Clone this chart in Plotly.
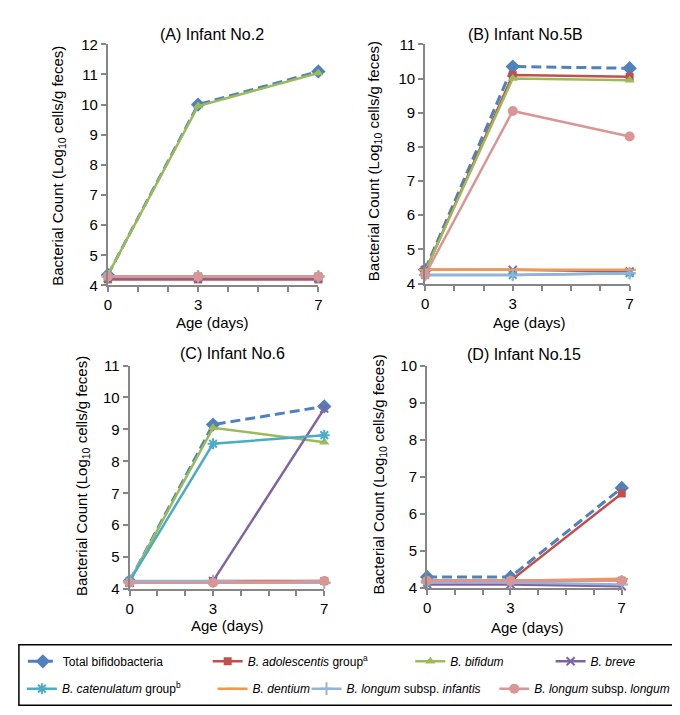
import plotly.graph_objects as go

W, H = 680, 715

days = [0, 3, 7]
x_tickvals = [0, 3, 7]
x_ticktext = ["0", "3", "7"]

series_names = [
    "Total bifidobacteria",
    "<i>B. adolescentis</i> group<sup>a</sup>",
    "<i>B. bifidum</i>",
    "<i>B. breve</i>",
    "<i>B. catenulatum</i> group<sup>b</sup>",
    "<i>B. dentium</i>",
    "<i>B. longum</i> subsp. <i>infantis</i>",
    "<i>B. longum</i> subsp. <i>longum</i>",
]

# values per panel, one list per series (order = series_names), at days 0, 3, 7
infant2 = [
    [4.35, 10.0, 11.1],
    [4.2, 4.2, 4.2],
    [4.35, 9.95, 11.05],
    [4.25, 4.25, 4.25],
    [4.3, 4.3, 4.3],
    [4.3, 4.3, 4.3],
    [4.3, 4.3, 4.3],
    [4.3, 4.3, 4.3],
]
infant5B = [
    [4.4, 10.35, 10.3],
    [4.35, 10.1, 10.05],
    [4.35, 10.0, 9.95],
    [4.4, 4.4, 4.35],
    [4.25, 4.25, 4.3],
    [4.4, 4.4, 4.4],
    [4.25, 4.25, 4.3],
    [4.25, 9.05, 8.3],
]
infant6 = [
    [4.25, 9.15, 9.72],
    [4.2, 4.25, 4.25],
    [4.25, 9.05, 8.6],
    [4.2, 4.25, 9.65],
    [4.25, 8.55, 8.82],
    [4.2, 4.2, 4.2],
    [4.25, 4.25, 4.2],
    [4.2, 4.2, 4.25],
]
infant15 = [
    [4.3, 4.3, 6.7],
    [4.2, 4.2, 6.55],
    [4.2, 4.2, 4.2],
    [4.1, 4.1, 4.05],
    [4.15, 4.2, 4.2],
    [4.2, 4.2, 4.25],
    [4.15, 4.15, 4.1],
    [4.2, 4.2, 4.2],
]

panel_titles = ["(A) Infant No.2", "(B) Infant No.5B", "(C) Infant No.6", "(D) Infant No.15"]
panel_data = [infant2, infant5B, infant6, infant15]
y_ranges = [(4, 12), (4, 11), (4, 11), (4, 10)]

colors = ["#4F81BD", "#C0504D", "#9BBB59", "#8064A2", "#4BACC6", "#F79646", "#95B3D7", "#D99694"]
symbols = ["diamond", "square", "triangle-up", "x-thin-open", "asterisk-open",
           "line-ew-open", "cross-thin-open", "circle"]
msizes = [11, 8, 9, 8, 9, 9, 9, 10]

FONT = "Arial, 'Liberation Sans', sans-serif"

# panel pixel boxes: (x0, x1, ytop, ybottom)
boxes = [
    (97, 310, 28, 275),
    (418, 625, 28, 273),
    (119, 316, 357, 586),
    (420, 617, 357, 585),
]

fig = go.Figure()

for p, (data, box) in enumerate(zip(panel_data, boxes)):
    ax = "" if p == 0 else str(p + 1)
    for i, vals in enumerate(data):
        dashed = i == 0
        mline = dict(width=2, color=colors[i]) if symbols[i].endswith("open") else dict(width=0)
        fig.add_trace(go.Scatter(
            x=days, y=vals, mode="lines+markers",
            name=series_names[i],
            xaxis="x" + ax, yaxis="y" + ax,
            line=dict(color=colors[i], width=3 if dashed else 2.5,
                      dash="10px,5px" if dashed else "solid"),
            marker=dict(symbol=symbols[i], size=msizes[i], color=colors[i], line=mline),
            cliponaxis=False,
            showlegend=(p == 0),
            legend=("legend" if i == 0 else "legend" + str(i + 1)),
        ))

layout = dict(
    width=W, height=H, autosize=False,
    margin=dict(l=0, r=0, t=0, b=0),
    paper_bgcolor="white", plot_bgcolor="white",
    font=dict(family=FONT, size=15, color="#000000"),
    annotations=[], shapes=[],
)

for p, box in enumerate(boxes):
    ax = "" if p == 0 else str(p + 1)
    x0, x1, yt, yb = box
    layout["xaxis" + ax] = dict(
        domain=[x0 / W, x1 / W], range=[0, 7], anchor="y" + ax,
        tickmode="array", tickvals=x_tickvals, ticktext=x_ticktext,
        ticks="outside", ticklen=5, tickwidth=1.5, tickcolor="#868686",
        minor=dict(tick0=0, dtick=1, ticks="outside", ticklen=5, tickwidth=1.5,
                   tickcolor="#868686", showgrid=False),
        showline=True, linecolor="#868686", linewidth=2,
        showgrid=False, zeroline=False, fixedrange=True,
        tickfont=dict(size=15),
    )
    lo, hi = y_ranges[p]
    layout["yaxis" + ax] = dict(
        domain=[1 - yb / H, 1 - yt / H], range=[lo, hi], anchor="x" + ax,
        tickmode="linear", tick0=lo, dtick=1,
        ticks="outside", ticklen=5, tickwidth=1.5, tickcolor="#868686",
        showline=True, linecolor="#868686", linewidth=2,
        showgrid=False, zeroline=False, fixedrange=True,
        tickfont=dict(size=15),
    )

# titles
title_pos = [(202, 18), (520, 18), (223, 345), (518, 346)]
for t, (cx, cy) in zip(panel_titles, title_pos):
    layout["annotations"].append(dict(
        text=t, x=cx / W, y=1 - cy / H, xref="paper", yref="paper",
        xanchor="center", yanchor="middle", showarrow=False, font=dict(size=16)))

# x-axis titles
xt_pos = [(203, 313), (524, 313), (218, 623), (522, 625)]
for cx, cy in xt_pos:
    layout["annotations"].append(dict(
        text="Age (days)", x=cx / W, y=1 - cy / H, xref="paper", yref="paper",
        xanchor="center", yanchor="middle", showarrow=False, font=dict(size=15)))

# y-axis titles
yt_pos = [(47, 152), (367, 148), (72, 470), (372, 469)]
for cx, cy in yt_pos:
    layout["annotations"].append(dict(
        text="Bacterial Count (Log<sub>10</sub> cells/g feces)",
        x=cx / W, y=1 - cy / H, xref="paper", yref="paper", textangle=-90,
        xanchor="center", yanchor="middle", showarrow=False, font=dict(size=15)))

# legend box
layout["shapes"].append(dict(
    type="rect", xref="paper", yref="paper",
    x0=7 / W, x1=677 / W, y0=1 - 705 / H, y1=1 - 643 / H,
    line=dict(color="#000000", width=1.5), fillcolor="rgba(0,0,0,0)"))

# legend item placements (text start x, row center y)
leg_pos = [(53, 660), (240, 660), (445, 660), (587, 660),
           (52, 688), (245, 688), (340, 688), (530, 688)]
for i, (tx, ty) in enumerate(leg_pos):
    key = "legend" if i == 0 else "legend" + str(i + 1)
    layout[key] = dict(
        x=(tx - 42) / W, y=1 - ty / H, xanchor="left", yanchor="middle",
        xref="paper", yref="paper",
        bgcolor="rgba(0,0,0,0)", borderwidth=0,
        font=dict(size=12, family=FONT), itemwidth=30,
        orientation="h", tracegroupgap=0,
    )

fig.update_layout(**layout)
fig.write_html("out.html")
